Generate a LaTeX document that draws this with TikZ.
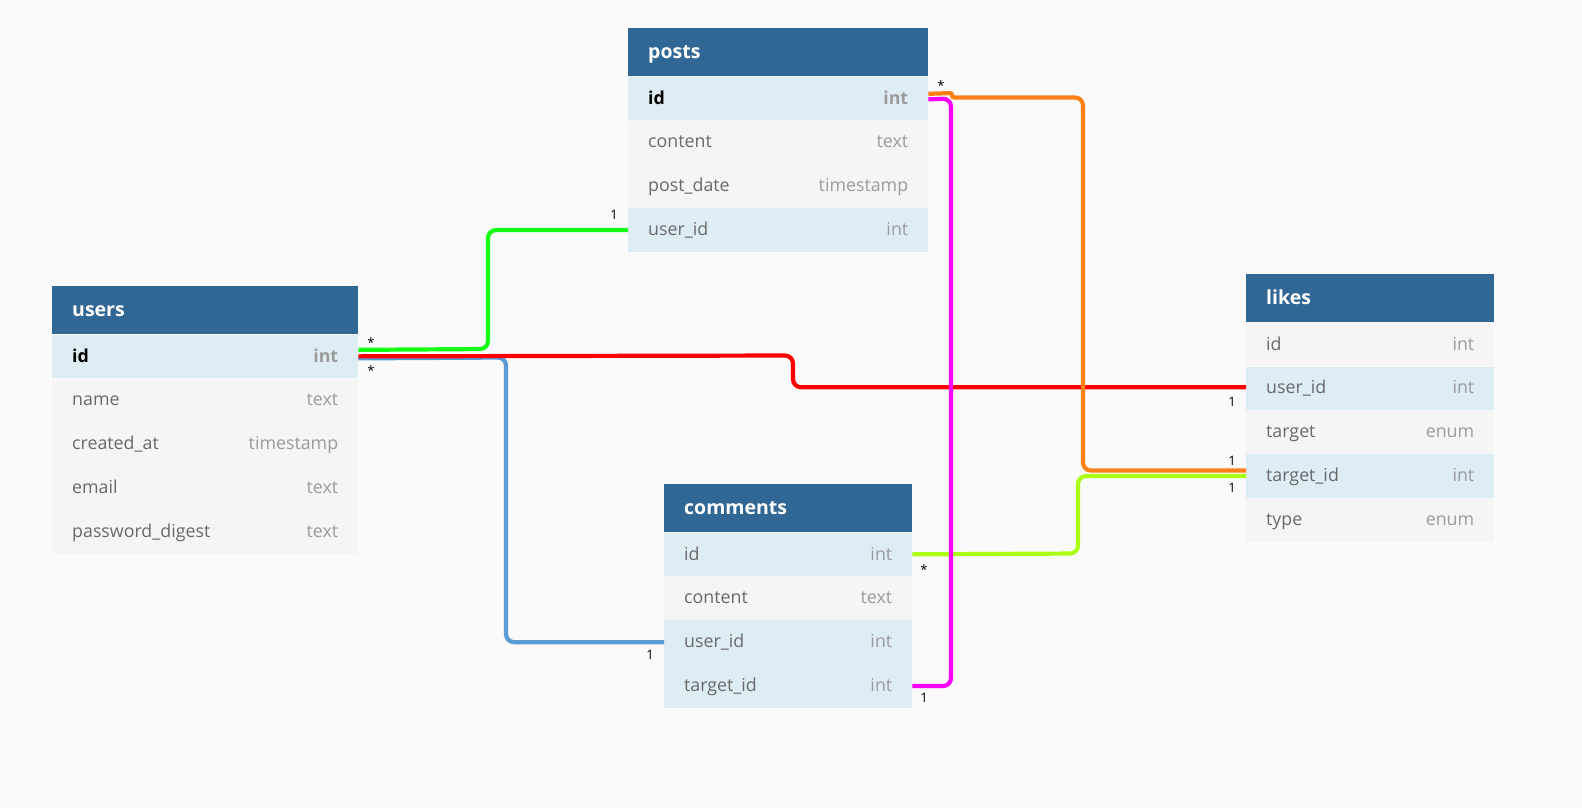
\documentclass[tikz,border=0pt]{standalone}
\usepackage{fontspec}
\setmainfont{Open Sans}
\usetikzlibrary{positioning}
\definecolor{bg}{RGB}{250,250,250}
\definecolor{headblue}{RGB}{49,103,148}
\definecolor{rowblue}{RGB}{222,236,244}
\definecolor{rowgray}{RGB}{245,245,245}
\definecolor{fieldtxt}{RGB}{105,105,105}
\definecolor{typetxt}{RGB}{155,155,155}
\definecolor{lnblue}{RGB}{91,155,213}
\definecolor{lnorange}{RGB}{255,128,20}
\definecolor{lnlime}{RGB}{170,255,20}
\definecolor{lngreen}{RGB}{20,255,20}
\definecolor{lnred}{RGB}{255,0,0}
\definecolor{lnmagenta}{RGB}{255,0,255}
\newcommand{\fld}[2]{#1\hfill\textcolor{typetxt}{#2}}
\newcommand{\pkfld}[2]{\textbf{\textcolor{black}{#1}}\hfill\textbf{\textcolor{typetxt}{#2}}}

\begin{document}
\begin{tikzpicture}[x=1pt,y=-1pt,node distance=0pt]
  \tikzstyle{head}=[anchor=north west,fill=headblue,text=white,font=\fontsize{19.5}{20}\selectfont\bfseries,inner xsep=20pt,inner ysep=0pt,minimum height=48pt,text height=1.24em,text depth=0pt,align=left]
  \tikzstyle{row}=[fill=rowgray,text=fieldtxt,font=\fontsize{17.8}{18}\selectfont,inner xsep=20pt,inner ysep=0pt,minimum height=43.5pt,text height=1.14em,text depth=0pt,align=left]
  \tikzstyle{key}=[row,fill=rowblue]
  \tikzstyle{wide}=[text width=266pt]
  \tikzstyle{mid}=[text width=260pt]
  \tikzstyle{slim}=[text width=208pt]
  \tikzstyle{rel}=[line width=4.2pt,rounded corners=8pt]
  \tikzstyle{card}=[font=\fontsize{13}{13}\selectfont,inner sep=0pt]
  \fill[bg] (0,0) rectangle (1582,809);

  \node[head,wide] (users) at (52,286) {users};
  \node[key,wide,below=of users] (users-id) {\pkfld{id}{int}};
  \node[row,wide,below=of users-id] (users-name) {\fld{name}{text}};
  \node[row,wide,below=of users-name] (users-created) {\fld{created\_at}{timestamp}};
  \node[row,wide,below=of users-created] (users-email) {\fld{email}{text}};
  \node[row,wide,below=of users-email] (users-pw) {\fld{password\_digest}{text}};

  \node[head,mid] (posts) at (628,28) {posts};
  \node[key,mid,below=of posts] (posts-id) {\pkfld{id}{int}};
  \node[row,mid,below=of posts-id] (posts-content) {\fld{content}{text}};
  \node[row,mid,below=of posts-content] (posts-date) {\fld{post\_date}{timestamp}};
  \node[key,mid,below=of posts-date] (posts-uid) {\fld{user\_id}{int}};

  \node[head,slim] (comments) at (664,484) {comments};
  \node[key,slim,below=of comments] (comments-id) {\fld{id}{int}};
  \node[row,slim,below=of comments-id] (comments-content) {\fld{content}{text}};
  \node[key,slim,below=of comments-content] (comments-uid) {\fld{user\_id}{int}};
  \node[key,slim,below=of comments-uid] (comments-tid) {\fld{target\_id}{int}};

  \node[head,slim] (likes) at (1246,274) {likes};
  \node[row,slim,below=of likes] (likes-id) {\fld{id}{int}};
  \node[key,slim,below=of likes-id] (likes-uid) {\fld{user\_id}{int}};
  \node[row,slim,below=of likes-uid] (likes-target) {\fld{target}{enum}};
  \node[key,slim,below=of likes-target] (likes-tid) {\fld{target\_id}{int}};
  \node[row,slim,below=of likes-tid] (likes-type) {\fld{type}{enum}};

  \draw[rel,lnblue] ([yshift=-2pt]users-id.east) -- (506,357.5) |- (comments-uid.west);
  \draw[rel,lngreen] ([yshift=6.5pt]users-id.east) -- (488,349) |- (posts-uid.west);
  \draw[rel,lnred] (users-id.east) -- (793,355.5) |- ([yshift=1pt]likes-uid.west);
  \draw[rel,lnlime] (comments-id.east) -- (1078,553.5) |- (likes-tid.west);
  \draw[rel,lnmagenta] ([yshift=-1pt]posts-id.east) -- (951,98.5) |- (comments-tid.east);
  \draw[rel,lnorange] ([yshift=4.5pt]posts-id.east) [rounded corners=2pt] -- (952,93) -- (952,97.5) [rounded corners=8pt] -- (1083,97.5) |- ([yshift=5.5pt]likes-tid.west);

  \node[card] (users-posts-n) at (371,343) {*};
  \node[card] (users-likes-n) at (371,371) {*};
  \node[card] (posts-user-1) at (614,215) {1};
  \node[card] (posts-n) at (941,86) {*};
  \node[card] (comments-n) at (924,570) {*};
  \node[card] (comments-tid-1) at (924,698) {1};
  \node[card] (comments-uid-1) at (650,655) {1};
  \node[card] (likes-uid-1) at (1232,402) {1};
  \node[card] (likes-tid-1) at (1232,461) {1};
  \node[card] (likes-tid-2) at (1232,488) {1};
\end{tikzpicture}
\end{document}
